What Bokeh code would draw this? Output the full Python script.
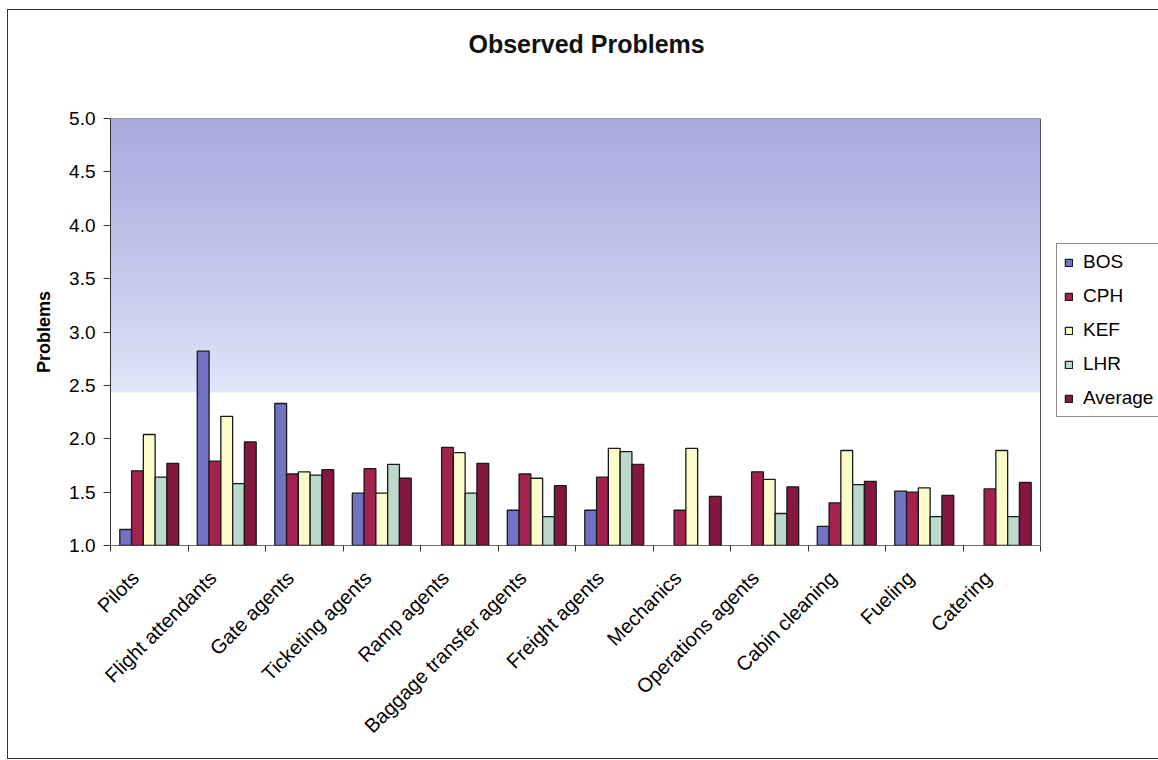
import math
import numpy as np
from bokeh.plotting import figure
from bokeh.models import (Range1d, FixedTicker, Legend, LegendItem, Title,
                          NumeralTickFormatter)
from bokeh.embed import file_html
from bokeh.resources import INLINE

# --- data -------------------------------------------------------------
categories = ["Pilots", "Flight attendants", "Gate agents", "Ticketing agents",
              "Ramp agents", "Baggage transfer agents", "Freight agents",
              "Mechanics", "Operations agents", "Cabin cleaning", "Fueling",
              "Catering"]
nan = float("nan")
bos = [1.15, 2.82, 2.33, 1.49, nan, 1.33, 1.33, nan, nan, 1.18, 1.51, nan]
cph = [1.70, 1.79, 1.67, 1.72, 1.92, 1.67, 1.64, 1.33, 1.69, 1.40, 1.50, 1.53]
kef = [2.04, 2.21, 1.69, 1.49, 1.87, 1.63, 1.91, 1.91, 1.62, 1.89, 1.54, 1.89]
lhr = [1.64, 1.58, 1.66, 1.76, 1.49, 1.27, 1.88, nan, 1.30, 1.57, 1.27, 1.27]
average = [1.77, 1.97, 1.71, 1.63, 1.77, 1.56, 1.76, 1.46, 1.55, 1.60, 1.47, 1.59]
series_names = ["BOS", "CPH", "KEF", "LHR", "Average"]
y_ticks = [1.0, 1.5, 2.0, 2.5, 3.0, 3.5, 4.0, 4.5, 5.0]

series = [bos, cph, kef, lhr, average]
colors = ["#7373c6", "#a3224f", "#fcfccb", "#bdd9cc", "#841640"]

FONT = "Liberation Sans"
n = len(categories)
y0, y1 = y_ticks[0], y_ticks[-1]

# The frame runs to the right edge so the legend beside the bars stays
# visible; the extra category widths on the right hold the legend.
W, H = 1150, 748
LEFT, TOP, BOTTOM = 102, 108, 213
x_extra = (W - LEFT) / 77.5 - n

p = figure(width=W, height=H, output_backend="svg", toolbar_location=None,
           x_range=Range1d(-0.5, n - 0.5 + x_extra), y_range=Range1d(y0, y1),
           min_border_left=LEFT, min_border_right=0, min_border_top=TOP,
           min_border_bottom=BOTTOM)
p.margin = (10, 0, 0, 8)
p.styles = {"outline": "1px solid #333333"}
p.background_fill_color = "white"
p.border_fill_color = "white"
p.outline_line_color = None
p.xgrid.visible = False
p.ygrid.visible = False

# --- plot-area background: lavender fading to white ------------------
rows = 400
img = np.zeros((rows, 1), dtype=np.uint32)
view = img.view(dtype=np.uint8).reshape((rows, 1, 4))
top_c = np.array([168, 170, 222])
low_c = np.array([226, 234, 250])
fade_end = 2.43
for i in range(rows):
    v = y0 + (i + 0.5) * (y1 - y0) / rows
    if v < fade_end:
        c = np.array([255, 255, 255])
    else:
        t = (v - fade_end) / (y1 - fade_end)
        t = t ** 0.8
        c = low_c + (top_c - low_c) * t
    view[i, 0, 0:3] = c.astype(np.uint8)
    view[i, 0, 3] = 255
p.image_rgba(image=[img], x=-0.5, y=y0, dw=n, dh=y1 - y0)

# plot-area border
p.quad(left=-0.5, right=n - 0.5, bottom=y0, top=y1, fill_color=None,
       line_color="#555555", line_width=1)

# --- bars ---------------------------------------------------------------
bar_w = 0.152
items = []
for k, (name, vals, col) in enumerate(zip(series_names, series, colors)):
    xs = [i + (k - 2) * bar_w for i in range(n)]
    r = p.vbar(x=xs, top=vals, bottom=y0, width=bar_w, fill_color=col,
               line_color="#1a1a1a", line_width=1.3)
    items.append(LegendItem(label=name, renderers=[r]))

# bottom axis line over the bar bases
p.segment(x0=[-0.5], x1=[n - 0.5], y0=[y0], y1=[y0], line_color="#333333",
          line_width=1.2)

legend = Legend(items=items, location=(946, 128))
legend.label_text_font = FONT
legend.label_text_font_size = "19px"
legend.label_text_color = "black"
legend.glyph_width = 9
legend.glyph_height = 9
legend.label_standoff = 10
legend.label_height = 20
legend.spacing = 12
legend.padding = 7
legend.margin = 0
legend.border_line_color = "#1a1a1a"
legend.border_line_width = 1
legend.background_fill_color = "white"
legend.background_fill_alpha = 1.0
p.add_layout(legend, "center")

# --- axes ---------------------------------------------------------------
# rotated category labels sit a little left of each category centre
label_shift = 0.18
label_pos = [round(i - label_shift, 2) for i in range(n)]
xa = p.xaxis[0]
xa.ticker = FixedTicker(ticks=label_pos,
                        minor_ticks=[i - 0.5 for i in range(n + 1)])
xa.major_label_overrides = {t: c for t, c in zip(label_pos, categories)}
xa.major_label_orientation = math.pi / 4
xa.major_tick_out = 0
xa.major_tick_in = 0
xa.minor_tick_out = 6
xa.minor_tick_in = 0
xa.minor_tick_line_color = "#333333"
xa.axis_line_color = None
xa.major_label_text_font = FONT
xa.major_label_text_font_size = "20px"
xa.major_label_text_color = "black"
xa.major_label_standoff = 23

ya = p.yaxis[0]
ya.ticker = FixedTicker(ticks=y_ticks, minor_ticks=[])
ya.formatter = NumeralTickFormatter(format="0.0")
ya.major_tick_out = 7
ya.major_tick_in = 0
ya.major_tick_line_color = "#333333"
ya.axis_line_color = "#333333"
ya.major_label_text_font = FONT
ya.major_label_text_font_size = "19px"
ya.major_label_text_color = "black"
ya.major_label_standoff = 8
ya.axis_label = "Problems"
ya.axis_label_text_font = FONT
ya.axis_label_text_font_size = "18px"
ya.axis_label_text_font_style = "bold"
ya.axis_label_text_color = "black"
ya.axis_label_standoff = 12

# --- title (a blank spacer keeps it well above the plot area) ----------
p.add_layout(Title(text=" ", text_font_size="40px"), "above")
p.add_layout(Title(text="Observed Problems", align="left", offset=358,
                   text_font=FONT, text_font_size="25px",
                   text_font_style="bold", text_color="#111111"), "above")

open("out.html", "w").write(file_html(p, INLINE))
